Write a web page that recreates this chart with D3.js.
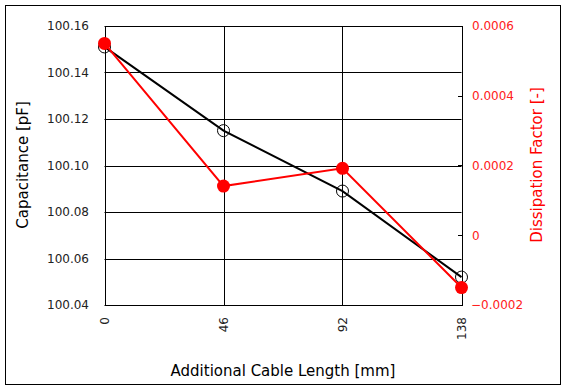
<!DOCTYPE html>
<html>
<head>
<meta charset="utf-8">
<script src="https://cdn.jsdelivr.net/npm/d3@7"></script>
<style>
  body { margin: 0; background: #fff; }
  text { font-family: "DejaVu Sans", sans-serif; }
</style>
</head>
<body>
<div id="chart"></div>
<script>
var chartWidth = 567;
var chartHeight = 390;

// Data
var cableLength = [0, 46, 92, 138];
var capacitance = [100.151, 100.115, 100.089, 100.052];
var dissipation = [0.00055, 0.000141, 0.000192, -0.00015];
var capTicks = [100.04, 100.06, 100.08, 100.10, 100.12, 100.14, 100.16];
var dfTicks = [-0.0002, 0, 0.0002, 0.0004, 0.0006];

var plot = { left: 104.5, top: 26, right: 461.5, bottom: 305 };

var svg = d3.select("#chart")
  .append("svg")
  .attr("width", chartWidth)
  .attr("height", chartHeight);

// outer frame
svg.append("rect")
  .attr("x", 5.5).attr("y", 5.5)
  .attr("width", 555).attr("height", 379)
  .attr("fill", "#fff").attr("stroke", "#000");

var x = d3.scaleLinear().domain([0, 138]).range([plot.left, plot.right]);
var yCap = d3.scaleLinear().domain([100.04, 100.16]).range([plot.bottom, plot.top]);
var yDf = d3.scaleLinear().domain([-0.0002, 0.0006]).range([plot.bottom, plot.top]);

// grid lines
svg.append("g")
  .selectAll("line")
  .data(capTicks)
  .enter()
  .append("line")
  .attr("x1", plot.left).attr("x2", plot.right)
  .attr("y1", function (d) { return Math.round(yCap(d)) + 0.5; })
  .attr("y2", function (d) { return Math.round(yCap(d)) + 0.5; })
  .attr("stroke", "#000");

svg.append("g")
  .selectAll("line")
  .data(cableLength)
  .enter()
  .append("line")
  .attr("x1", function (d) { return Math.round(x(d)) + 0.5; })
  .attr("x2", function (d) { return Math.round(x(d)) + 0.5; })
  .attr("y1", plot.top).attr("y2", plot.bottom)
  .attr("stroke", "#000");

// plot border
svg.append("rect")
  .attr("x", Math.round(plot.left) + 0.5).attr("y", plot.top + 0.5)
  .attr("width", Math.round(plot.right) - Math.round(plot.left))
  .attr("height", plot.bottom - plot.top)
  .attr("fill", "none").attr("stroke", "#000");

// left axis labels
svg.append("g")
  .selectAll("text")
  .data(capTicks)
  .enter()
  .append("text")
  .attr("x", 89)
  .attr("y", function (d) { return yCap(d); })
  .attr("dy", "0.36em")
  .attr("text-anchor", "end")
  .attr("font-size", 12)
  .attr("fill", "#222")
  .text(function (d) { return d3.format(".2f")(d); });

// right axis: inward ticks and red labels
svg.append("g")
  .selectAll("line")
  .data(dfTicks)
  .enter()
  .append("line")
  .attr("x1", Math.round(plot.right) - 4).attr("x2", Math.round(plot.right))
  .attr("y1", function (d) { return Math.round(yDf(d)) + 0.5; })
  .attr("y2", function (d) { return Math.round(yDf(d)) + 0.5; })
  .attr("stroke", "#000");

svg.append("g")
  .selectAll("text")
  .data(dfTicks)
  .enter()
  .append("text")
  .attr("x", function (d) { return d < 0 ? 471 : 472; })
  .attr("y", function (d) { return yDf(d); })
  .attr("dy", "0.36em")
  .attr("font-size", 12)
  .attr("fill", "#ff2020")
  .text(function (d) { return d === 0 ? "0" : d3.format(".4f")(d).replace("-", "-"); });

// x axis labels, rotated
svg.append("g")
  .selectAll("text")
  .data(cableLength)
  .enter()
  .append("text")
  .attr("transform", function (d) { return "translate(" + (x(d) + 4) + ",317) rotate(-90)"; })
  .attr("text-anchor", "end")
  .attr("font-size", 12)
  .attr("fill", "#222")
  .text(function (d) { return d; });

// axis titles
svg.append("text")
  .attr("x", 283).attr("y", 376)
  .attr("text-anchor", "middle")
  .attr("font-size", 15)
  .attr("fill", "#000")
  .text("Additional Cable Length [mm]");

svg.append("text")
  .attr("transform", "translate(28,165) rotate(-90)")
  .attr("text-anchor", "middle")
  .attr("font-size", 15)
  .attr("fill", "#000")
  .text("Capacitance [pF]");

svg.append("text")
  .attr("transform", "translate(542,165) rotate(-90)")
  .attr("text-anchor", "middle")
  .attr("font-size", 15)
  .attr("fill", "#ff0000")
  .text("Dissipation Factor [-]");

// capacitance series
var capLine = d3.line()
  .x(function (d, i) { return x(cableLength[i]); })
  .y(function (d) { return yCap(d); });

svg.append("path")
  .datum(capacitance)
  .attr("d", capLine)
  .attr("fill", "none")
  .attr("stroke", "#000")
  .attr("stroke-width", 2);

svg.append("g")
  .selectAll("circle")
  .data(capacitance)
  .enter()
  .append("circle")
  .attr("cx", function (d, i) { return x(cableLength[i]); })
  .attr("cy", function (d) { return yCap(d); })
  .attr("r", 6)
  .attr("fill", "none")
  .attr("stroke", "#000")
  .attr("stroke-width", 1);

// dissipation factor series
var dfLine = d3.line()
  .x(function (d, i) { return x(cableLength[i]); })
  .y(function (d) { return yDf(d); });

svg.append("path")
  .datum(dissipation)
  .attr("d", dfLine)
  .attr("fill", "none")
  .attr("stroke", "#ff0000")
  .attr("stroke-width", 2);

svg.append("g")
  .selectAll("circle")
  .data(dissipation)
  .enter()
  .append("circle")
  .attr("cx", function (d, i) { return x(cableLength[i]); })
  .attr("cy", function (d) { return yDf(d); })
  .attr("r", 6.5)
  .attr("fill", "#ff0000");
</script>
</body>
</html>
